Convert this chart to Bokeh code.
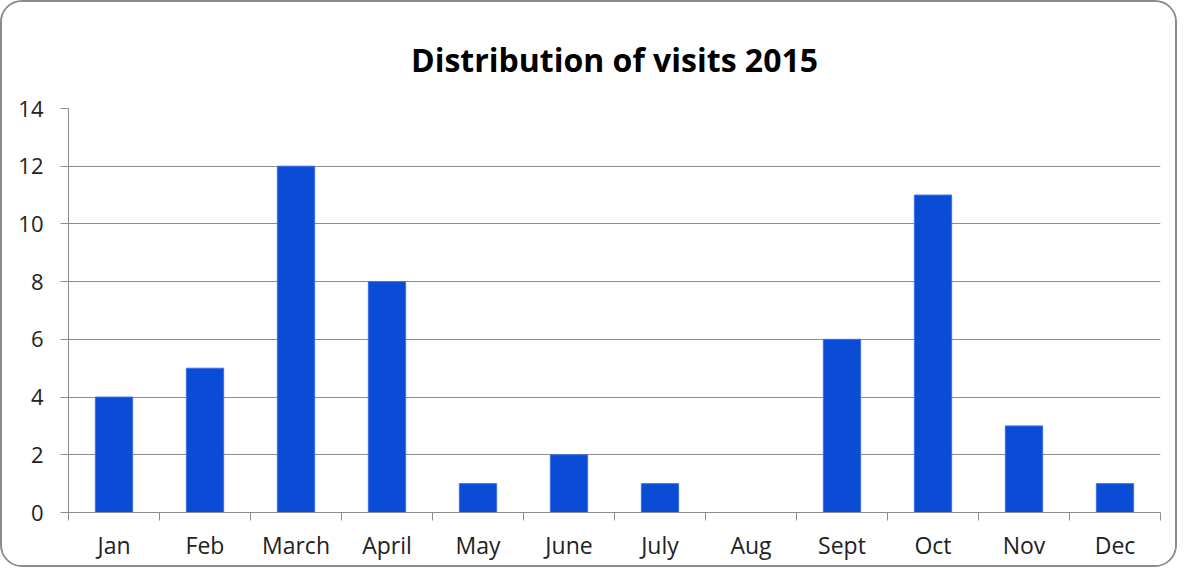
from bokeh.plotting import figure
from bokeh.models import FixedTicker, Range1d, ColumnDataSource
from bokeh.embed import file_html
from bokeh.resources import INLINE

months = ["Jan", "Feb", "March", "April", "May", "June", "July", "Aug", "Sept", "Oct", "Nov", "Dec"]
visits = [4, 5, 12, 8, 1, 2, 1, 0, 6, 11, 3, 1]
y_ticks = [0, 2, 4, 6, 8, 10, 12, 14]
title_text = "Distribution of visits 2015"

n = len(months)
centers = [i + 0.5 for i in range(n)]
src = ColumnDataSource(dict(x=centers, top=visits, month=months))

FONT = "Open Sans"
W, H = 1177, 567
p = figure(width=W, height=H, output_backend="svg", toolbar_location=None,
           x_range=Range1d(0, n), y_range=Range1d(0, 14),
           min_border_left=66, min_border_right=19, min_border_top=106, min_border_bottom=57,
           title=title_text)
p.styles = {"border": "2px solid #8c8c8c", "border-radius": "22px", "box-sizing": "border-box",
            "overflow": "hidden"}

p.title.align = "center"
p.title.text_font = FONT
p.title.text_font_style = "bold"
p.title.text_font_size = "32px"
p.title.text_color = "#000000"
p.title.offset = -20
p.title.standoff = 56

p.vbar(x="x", top="top", width=0.41, bottom=0, source=src,
       fill_color="#0a4cd6", line_color="#3a70e8", line_width=1)

p.outline_line_color = None
p.background_fill_color = "white"
p.border_fill_color = "white"

# x axis
xa = p.xaxis[0]
xa.ticker = FixedTicker(ticks=centers, minor_ticks=list(range(n + 1)))
xa.major_label_overrides = {c: m for c, m in zip(centers, months)}
xa.major_tick_out = 0
xa.major_tick_in = 0
xa.minor_tick_out = 8
xa.minor_tick_in = 0
xa.minor_tick_line_color = "#8c8c8c"
xa.axis_line_color = "#8c8c8c"
xa.major_label_text_font = FONT
xa.major_label_text_font_size = "23px"
xa.major_label_text_color = "#222222"
xa.major_label_standoff = 8

# y axis
ya = p.yaxis[0]
ya.ticker = FixedTicker(ticks=y_ticks)
ya.major_tick_out = 8
ya.major_tick_in = 0
ya.minor_tick_line_color = None
ya.major_tick_line_color = "#8c8c8c"
ya.axis_line_color = "#8c8c8c"
ya.major_label_text_font = FONT
ya.major_label_text_font_size = "22px"
ya.major_label_text_color = "#222222"
ya.major_label_standoff = 17

p.xgrid.grid_line_color = None
p.ygrid.grid_line_color = "#8c8c8c"
p.ygrid.grid_line_width = 1

open("out.html", "w").write(file_html(p, INLINE))
